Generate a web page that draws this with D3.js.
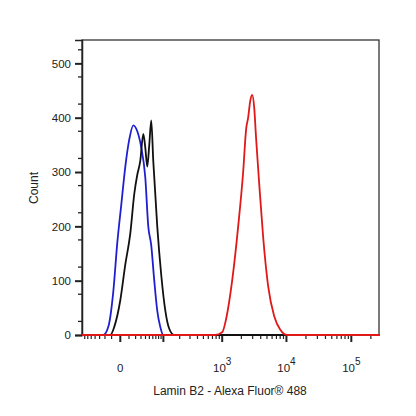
<!DOCTYPE html><html><head><script src="https://cdn.jsdelivr.net/npm/d3@7"></script>
<style>body{margin:0;background:#fff}text{font-family:"Liberation Sans",Arial,sans-serif}</style></head><body>
<svg id="c" width="416" height="416"></svg>
<script>
const blueX=[-80,-22.9,-14.7,-7.8,-3.1,1.0,5.4,10.4,16.2,22.9,30.6,39.5,47,55.3,64.7,75,86.6,99.4,270000];
const blueY=[0,0,15,80,170,240,310,360,386,375,345,290,200,165,100,45,15,0,0];
const blackX=[-80,-11.8,-6.6,0,5.4,11.8,17.8,22.9,28.5,34.9,39.5,44.4,49.7,55.3,61.5,75,90.7,109,129,160,270000];
const blackY=[0,0,15,64,130,187,260,295,320,370,345,310,350,395,320,200,110,45,12,0,0];
const redX=[-80,773,1000,1155,1435,1783,2133,2377,2551,2743,2945,3163,3399,3781,4365,5213,6455,7990,10250,270000];
const redY=[0,0,5,30,100,200,300,380,400,430,442,420,360,280,180,90,35,10,0,0];
const yTicks=[0,100,200,300,400,500];
const xMajor=[0,1000,10000,100000];
const xMajorLabels=["0","3","4","5"];
const svg=d3.select("#c");
const L=82,R=379,T=40,B=335;
const x=d3.scaleSymlog().constant(27.7).domain([-80,267000]).range([L,R]);
const y=d3.scaleLinear().domain([0,543]).range([B,T]);
svg.append("rect").attr("x",L).attr("y",T).attr("width",R-L).attr("height",B-T).attr("fill","none").attr("stroke","#333").attr("stroke-width",1.3);
const ya=svg.append("g").attr("transform",`translate(${L},0)`).call(d3.axisLeft(y).tickValues(yTicks).tickSize(7).tickPadding(4).tickFormat(d3.format("d")));
ya.select(".domain").attr("stroke","#222").attr("stroke-width",1.5);
ya.selectAll(".tick line").attr("stroke","#222").attr("stroke-width",2);
ya.selectAll("text").attr("font-size",11.5).attr("fill","#222");
const yMinor=d3.range(25,550,50);
svg.append("g").selectAll("line").data(yMinor).join("line").attr("x1",L-4).attr("x2",L).attr("y1",d=>y(d)).attr("y2",d=>y(d)).attr("stroke","#222").attr("stroke-width",1.3);
const minor=[];
for(let v=-70;v<=-10;v+=10)minor.push(v);
for(let v=10;v<=90;v+=10)minor.push(v);
[100,1000,10000].forEach(p=>{for(let k=2;k<=9;k++)minor.push(k*p)});
minor.push(200000);
const gx=svg.append("g");
gx.selectAll("line.mi").data(minor).join("line").attr("x1",d=>x(d)).attr("x2",d=>x(d)).attr("y1",B).attr("y2",B+4).attr("stroke","#222").attr("stroke-width",1.2);
gx.selectAll("line.ma").data(xMajor.concat([100])).join("line").attr("x1",d=>x(d)).attr("x2",d=>x(d)).attr("y1",B).attr("y2",B+7).attr("stroke","#222").attr("stroke-width",2);
const lab=gx.selectAll("text").data(xMajor).join("text").attr("x",d=>x(d)).attr("y",372).attr("text-anchor","middle").attr("font-size",11.5).attr("fill","#222");
lab.each(function(d,i){const t=d3.select(this);if(d===0)t.text("0");else{t.append("tspan").text("10");t.append("tspan").attr("dy",-7).attr("font-size",10).text(xMajorLabels[i]);}});
const line=d3.line().x(d=>x(d[0])).y(d=>y(d[1])).curve(d3.curveMonotoneX);
const series=[[blueX,blueY,"#1f1fd0"],[blackX,blackY,"#111"],[redX,redY,"#e01818"]];
series.forEach(([xs,ys,c])=>svg.append("path").attr("d",line(xs.map((v,i)=>[v,ys[i]]))).attr("fill","none").attr("stroke",c).attr("stroke-width",1.8));
svg.append("text").attr("transform","translate(38,188) rotate(-90)").attr("text-anchor","middle").attr("font-size",12).attr("fill","#222").text("Count");
svg.append("text").attr("x",230).attr("y",395).attr("text-anchor","middle").attr("font-size",12).attr("fill","#222").text("Lamin B2 - Alexa Fluor® 488");
</script></body></html>
